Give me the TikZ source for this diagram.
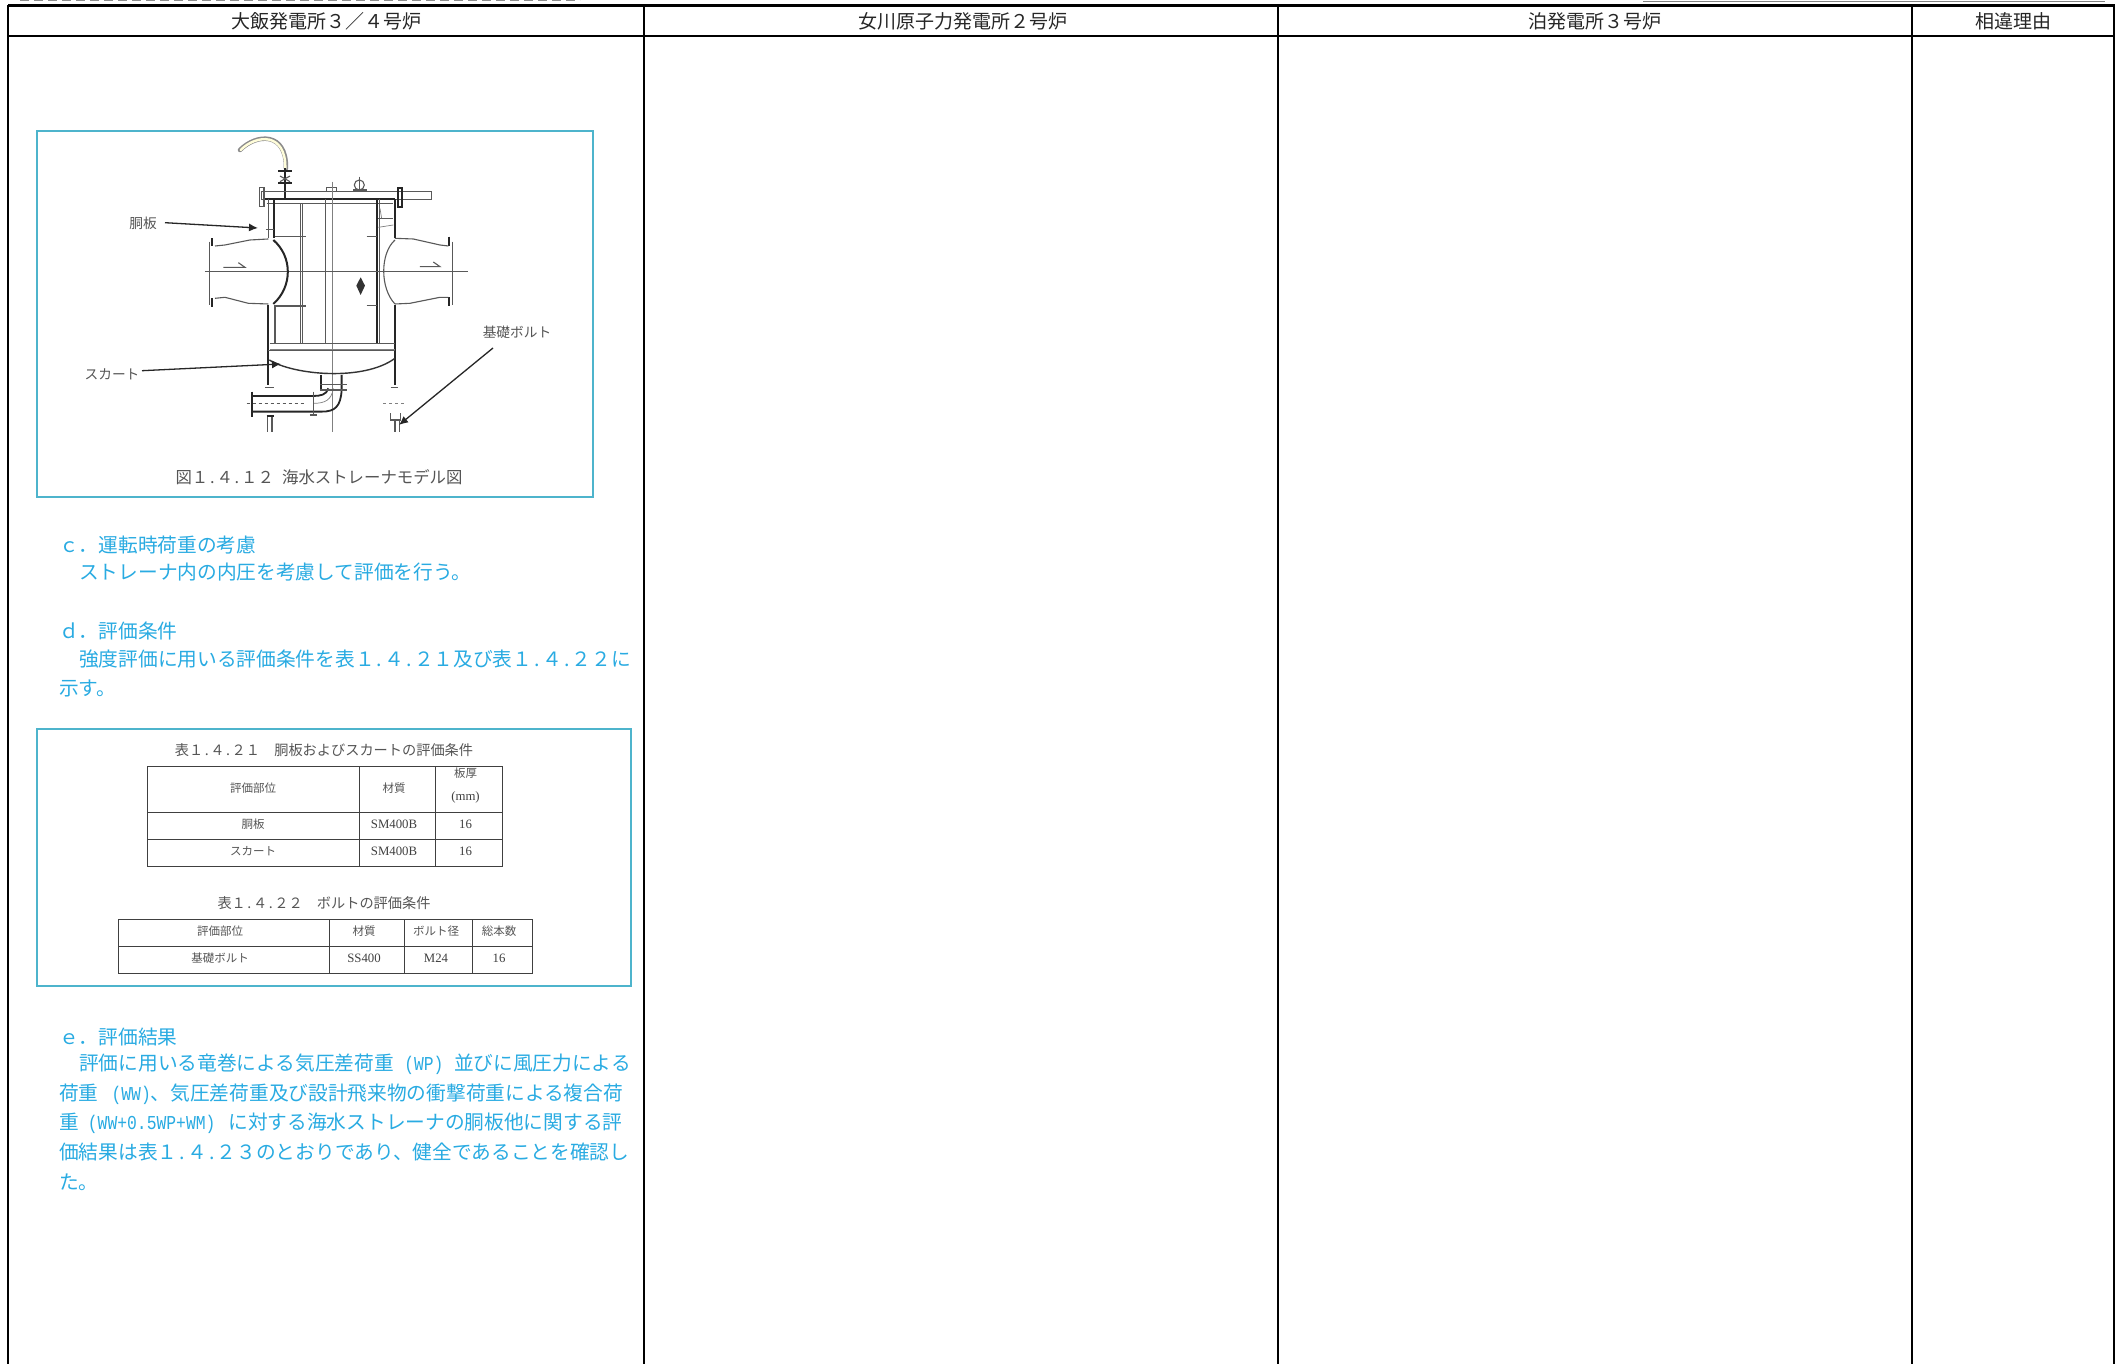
\documentclass[tikz,border=0pt]{standalone}
\usepackage{fontspec}
\setmainfont{Noto Sans CJK JP}
\newfontfamily\lmono[FakeStretch=0.83]{Liberation Mono}
\newfontfamily\lserif{Liberation Serif}
\newcommand{\hdot}{\makebox[0.5em][c]{.}}
\usetikzlibrary{arrows.meta}
\definecolor{cy}{HTML}{29ABE2}
\definecolor{frm}{HTML}{4DB4CC}
\definecolor{gr}{HTML}{555555}
\tikzset{x=1pt,y=-1pt,
 hd/.style={font=\fontsize{19}{19}\selectfont,text=black!85,anchor=center,inner sep=0},
 body/.style={font=\fontsize{19.7}{20}\selectfont,text=cy,anchor=west,inner sep=0},
 frame/.style={draw=frm,line width=1.8pt},
 rule/.style={line width=2.4pt,black},
 lab/.style={font=\fontsize{13.7}{14}\selectfont,text=gr,inner sep=0},
 tlab/.style={font=\fontsize{11.5}{12}\selectfont,text=gr,inner sep=0},
 tnum/.style={font=\fontsize{12.8}{13}\selectfont\lserif,text=black!75,inner sep=0},
 figcap/.style={font=\fontsize{16.4}{17}\selectfont,text=gr,inner sep=0},
 tcap/.style={font=\fontsize{14.2}{15}\selectfont,text=gr,inner sep=0},
 tb/.style={line width=1pt,black!75},
 dw/.style={line width=1.1pt,black!65},
 dwt/.style={line width=1.8pt,black!85},
 thn/.style={line width=0.7pt,black!50},
 pt/.style={line width=1.3pt,black!85,-{Latex[length=9pt,width=8pt]}}
}
\begin{document}
\begin{tikzpicture}
\useasboundingbox (0,0) rectangle (2121,1364);
\fill[white] (0,0) rectangle (2121,1364);
% clipped remains at the top edge
\draw[line width=1pt,black!45,dash pattern=on 9pt off 5pt] (20,0.5) -- (580,0.5);
\draw[line width=1pt,black!50] (1643,1.2) -- (2105,1.2);
% table rules
\draw[rule] (8,5.5) -- (2115,5.5);
\draw[rule] (8,36) -- (2115,36);
\draw[rule] (8,5.5) -- (8,1364);
\draw[rule] (644,5.5) -- (644,1364);
\draw[rule] (1278,5.5) -- (1278,1364);
\draw[rule] (1912,5.5) -- (1912,1364);
\draw[rule] (2114,5.5) -- (2114,1364);
\node[hd] (h1) at (326,21.5) {大飯発電所３／４号炉};
\node[hd] (h2) at (963,21.5) {女川原子力発電所２号炉};
\node[hd] (h3) at (1595,21.5) {泊発電所３号炉};
\node[hd] (h4) at (2013,21.5) {相違理由};
% figure frame
\draw[frame] (37,131) rectangle (593,497);
% strainer, in crop units of one third of a pixel
\begin{scope}[shift={(150,140)},x=0.3333pt,y=-0.3333pt]
 % hose
 \draw[line width=4.5pt,black!45,line cap=round] (270,30) .. controls (320,-20) and (410,-25) .. (408,85);
 \draw[line width=2.4pt,white!85!yellow,line cap=round] (272,30) .. controls (320,-18) and (408,-23) .. (406,85);
 % valve
 \draw[dwt] (405,85) -- (405,175);
 \draw[dwt] (385,92) -- (425,92);
 \draw[dw] (390,108) -- (420,125);
 \draw[dw] (420,108) -- (390,125);
 \draw[dwt] (385,128) -- (425,128);
 % top plate
 \draw[dw] (335,155) rectangle (845,178);
 \draw[dw] (328,142) rectangle (342,200);
 \draw[dwt] (745,145) rectangle (757,200);
 \draw[dwt] (345,178) -- (735,178);
 \draw[dw] (350,190) -- (730,190);
 \draw[dw] (530,153) -- (530,143) -- (560,143) -- (560,153);
 \draw[dw] (628,135) circle (5pt);
 \draw[dw] (610,150) -- (650,150);
 \draw[dw] (628,110) -- (628,155);
 % walls
 \draw[dw] (355,178) -- (355,295);
 \draw[dwt] (372,178) -- (372,295);
 \draw[dw] (348,268) -- (372,268);
 \draw[dwt] (735,178) -- (735,295);
 \draw[dwt] (680,178) -- (680,610);
 \draw[dw] (688,178) -- (688,610);
 \draw[dwt] (355,495) -- (355,735);
 \draw[dw] (375,495) -- (375,610);
 \draw[dwt] (735,495) -- (735,735);
 \draw[dw] (452,190) -- (452,610);
 \draw[dw] (458,190) -- (458,610);
 \draw[dw] (527,178) -- (527,610);
 \draw[thn] (547,125) -- (547,875);
 \draw[dw] (685,235) -- (730,235);
 \draw[thn] (685,262) -- (730,255);
 \draw[thn] (690,205) -- (695,235);
 % centre line
 \draw[dw] (165,395) -- (955,395);
 % left nozzle
 \draw[dw] (178,305) -- (178,495);
 \draw[dwt] (185,295) -- (185,318);
 \draw[dwt] (185,475) -- (185,500);
 \draw[dw] (195,318) -- (225,315) -- (300,300) -- (355,297);
 \draw[dw] (195,475) -- (225,472) -- (295,490) -- (355,492);
 \draw[line width=2pt,black!85] (370,300) .. controls (428,350) and (428,440) .. (370,492);
 % right nozzle
 \draw[dw] (908,305) -- (908,495);
 \draw[dwt] (898,290) -- (898,318);
 \draw[dwt] (898,472) -- (898,498);
 \draw[dw] (735,295) -- (790,297) -- (870,315) -- (895,318);
 \draw[dw] (735,492) -- (780,490) -- (870,472) -- (895,472);
 \draw[dw] (735,300) .. controls (690,340) and (690,445) .. (735,492);
 % stiffeners
 \draw[dw] (375,290) -- (468,290);
 \draw[dw] (375,498) -- (468,498);
 \draw[dw] (650,290) -- (680,290);
 \draw[dw] (650,497) -- (680,497);
 \draw[dw] (220,382) -- (285,382) -- (265,368);
 \draw[dw] (810,380) -- (870,380) -- (850,366);
 \fill[black!80] (632,412) -- (645,437) -- (632,465) -- (619,437) -- cycle;
 % bottom
 \draw[dw] (360,610) -- (735,610);
 \draw[thn] (360,628) -- (735,628);
 \draw[dw] (355,632) -- (735,632);
 \draw[line width=1.4pt,black!80] (358,660) .. controls (430,705) and (640,725) .. (735,655);
 \draw[dw] (345,742) -- (372,742);
 \draw[dw] (722,742) -- (745,742);
 % drain
 \draw[dwt] (512,705) -- (512,750);
 \draw[dwt] (575,705) -- (575,750) .. controls (572,800) and (555,815) .. (515,815) -- (305,815);
 \draw[dwt] (305,768) -- (490,768) .. controls (510,768) and (530,765) .. (535,745);
 \draw[thn] (492,790) .. controls (525,790) and (545,780) .. (550,745);
 \draw[dw] (510,733) -- (590,733);
 \draw[dw] (510,750) -- (590,750);
 \draw[dwt] (305,755) -- (305,830);
 \draw[dw,dashed] (290,790) -- (470,790);
 \draw[dw] (490,755) -- (490,825);
 \draw[dw] (480,825) -- (502,825);
 \draw[dwt] (350,828) -- (372,828);
 \draw[dw] (352,830) -- (352,875);
 \draw[dw] (366,830) -- (366,875);
 \draw[thn,dashed] (700,790) -- (765,790);
 \draw[dw] (722,820) -- (722,840) -- (752,840) -- (752,820);
 \draw[dw] (735,840) -- (735,875);
 \draw[dw] (748,840) -- (748,875);
\end{scope}
% labels of the figure
\node[lab] (ldo) at (143,223) {胴板};
\node[lab] (lsk) at (112,374) {スカート};
\node[lab] (lbo) at (517,332) {基礎ボルト};
\coordinate (sdo) at (165,222.7);
\coordinate (tdo) at (258,228);
\coordinate (ssk) at (142,370.7);
\coordinate (tsk) at (281,364);
\coordinate (tbo) at (399,425);
\coordinate (sbo) at (493,348);
\draw[pt] (sdo) -- (tdo);
\draw[pt] (ssk) -- (tsk);
\draw[pt] (sbo) -- (tbo);
\node[figcap] (fcap) at (319,477) {図１\hdot ４\hdot １２\hspace{0.5em}海水ストレーナモデル図};
% body text c d
\node[body] (c1) at (59,545) {ｃ．運転時荷重の考慮};
\node[body] (c2) at (79,572) {ストレーナ内の内圧を考慮して評価を行う。};
\node[body] (d1) at (59,631) {ｄ．評価条件};
\node[body] (d2) at (79,659) {強度評価に用いる評価条件を表１\hdot ４\hdot ２１及び表１\hdot ４\hdot ２２に};
\node[body] (d3) at (59,688) {示す。};
% table frame
\draw[frame] (37,729) rectangle (631,986);
\node[tcap] (t1c) at (324,750) {表１\hdot ４\hdot ２１　胴板およびスカートの評価条件};
\draw[tb] (147,766) rectangle (502,866);
\draw[tb] (147,812) -- (502,812);
\draw[tb] (147,839) -- (502,839);
\draw[tb] (359,766) -- (359,866);
\draw[tb] (435,766) -- (435,866);
\node[tlab] (a1) at (253,788) {評価部位};
\node[tlab] (a2) at (394,788) {材質};
\node[tlab] (a3) at (465.5,773) {板厚};
\node[tnum] (a4) at (465.5,797) {(mm)};
\node[tlab] (b1) at (253,824.5) {胴板};
\node[tnum] (b2) at (394,824.5) {SM400B};
\node[tnum] (b3) at (465.5,824.5) {16};
\node[tlab] (e1) at (253,851) {スカート};
\node[tnum] (e2) at (394,851) {SM400B};
\node[tnum] (e3) at (465.5,851) {16};
\node[tcap] (t2c) at (324,903) {表１\hdot ４\hdot ２２　ボルトの評価条件};
\draw[tb] (118,919) rectangle (532,973);
\draw[tb] (118,946) -- (532,946);
\draw[tb] (329.5,919) -- (329.5,973);
\draw[tb] (404.6,919) -- (404.6,973);
\draw[tb] (472.6,919) -- (472.6,973);
\node[tlab] (f1) at (220,931) {評価部位};
\node[tlab] (f2) at (364,931) {材質};
\node[tlab] (f3) at (436,931) {ボルト径};
\node[tlab] (f4) at (499,931) {総本数};
\node[tlab] (g1) at (220,958.5) {基礎ボルト};
\node[tnum] (g2) at (364,958.5) {SS400};
\node[tnum] (g3) at (436,958.5) {M24};
\node[tnum] (g4) at (499,958.5) {16};
% body text e
\node[body] (r1) at (59,1037) {ｅ．評価結果};
\node[body] (r2) at (79,1064) {評価に用いる竜巻による気圧差荷重\hspace{10.5pt}{\lmono (WP)}\hspace{10.5pt}並びに風圧力による};
\node[body] (r3) at (59,1094) {荷重\hspace{13pt}{\lmono (WW)}、気圧差荷重及び設計飛来物の衝撃荷重による複合荷};
\node[body] (r4) at (59,1123) {重\hspace{9pt}{\lmono (WW+0.5WP+WM)}\hspace{13pt}に対する海水ストレーナの胴板他に関する評};
\node[body] (r5) at (59,1152) {価結果は表１\hdot ４\hdot ２３のとおりであり、健全であることを確認し};
\node[body] (r6) at (59,1182) {た。};
\end{tikzpicture}
\end{document}
